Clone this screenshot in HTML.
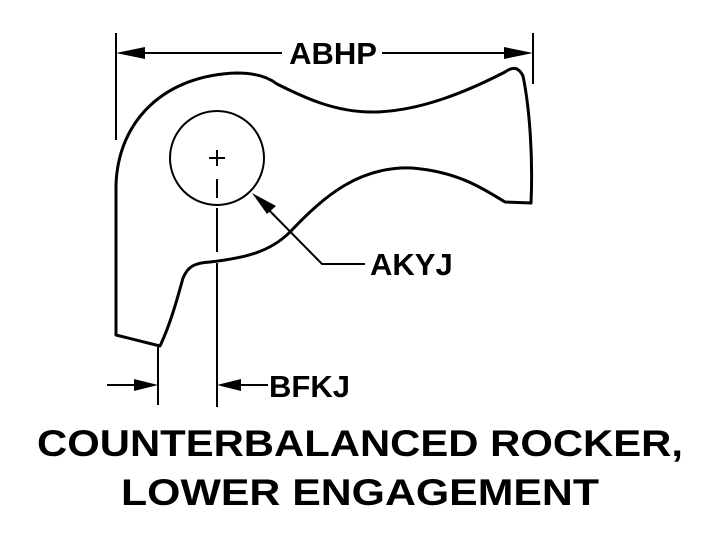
<!DOCTYPE html>
<html><head><style>html,body{margin:0;padding:0;background:#fff}svg{display:block}</style></head><body>
<svg width="720" height="540" viewBox="0 0 720 540" xmlns="http://www.w3.org/2000/svg">
<g fill="none" stroke="#000" stroke-width="3" stroke-linejoin="round">
<path d="M116,335 L116,185 C118,120 165,75 237,73 C255,73 268,77 277,84 C305,98 335,112 372,112 C420,112 470,90 505,72 C512,67 518,66 523,76 C530,110 533,160 531,203 L505,202 C485,190 460,172 412,168 C360,166 325,195 290,232 C270,252 245,258 210,262 C195,263 188,266 183,278 C177,300 170,325 160,346 Z"/>
</g>
<circle cx="217" cy="158" r="47" fill="none" stroke="#000" stroke-width="2"/>
<g stroke="#000" stroke-width="2" fill="none">
<line x1="209" y1="158" x2="225" y2="158"/><line x1="217" y1="150" x2="217" y2="166"/>
<line x1="217" y1="179" x2="217" y2="198"/>
<line x1="217" y1="208" x2="217" y2="252"/>
<line x1="217" y1="263" x2="217" y2="407"/>
<line x1="116" y1="33" x2="116" y2="140"/>
<line x1="533" y1="33" x2="533" y2="84"/>
<line x1="130" y1="53" x2="282" y2="53"/>
<line x1="382" y1="53" x2="520" y2="53"/>
<line x1="158" y1="347" x2="158" y2="405"/>
<line x1="107" y1="385" x2="145" y2="385"/>
<line x1="230" y1="385" x2="268" y2="385"/>
<polyline points="262,203 322,264 365,264"/>
</g>
<g fill="#000">
<polygon points="116,53 145,47 145,59"/>
<polygon points="533,53 504,47 504,59"/>
<polygon points="158,385 134,379 134,391"/>
<polygon points="217,385 241,379 241,391"/>
<polygon points="252,193 276,206 267,214"/>
</g>
<g font-family="Liberation Sans, sans-serif" font-weight="bold" fill="#000">
<text x="333" y="64" font-size="31" text-anchor="middle">ABHP</text>
<text x="370" y="275" font-size="31">AKYJ</text>
<text x="269" y="397" font-size="31">BFKJ</text>
<text x="360" y="456" font-size="37" text-anchor="middle" textLength="646" lengthAdjust="spacingAndGlyphs">COUNTERBALANCED ROCKER,</text>
<text x="360" y="505" font-size="37" text-anchor="middle" textLength="478" lengthAdjust="spacingAndGlyphs">LOWER ENGAGEMENT</text>
</g>
</svg>
</body></html>
